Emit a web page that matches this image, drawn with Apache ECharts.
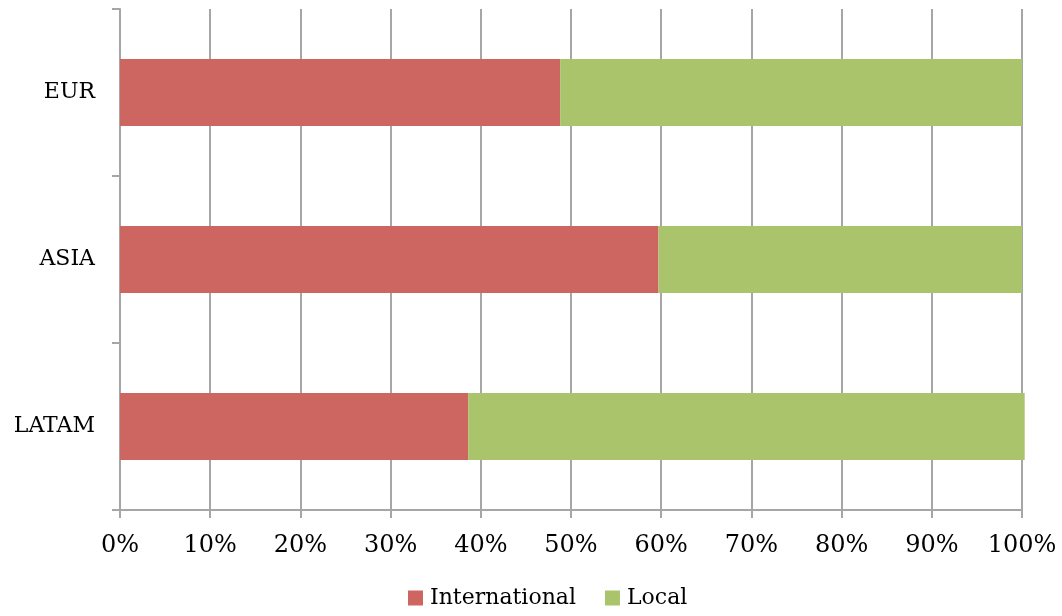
<!DOCTYPE html>
<html>
<head>
<meta charset="utf-8">
<script src="https://cdn.jsdelivr.net/npm/echarts@6/dist/echarts.min.js"></script>
<style>
  html, body { margin: 0; padding: 0; background: #fff; }
  #chart { width: 1062px; height: 616px; }
</style>
</head>
<body>
<div id="chart"></div>
<script>
// Share of each region split between international and local (percent)
const regions = ['EUR', 'ASIA', 'LATAM'];
const international = [48.8, 59.7, 38.6];
const local = [51.2, 40.3, 61.7];
const xTicks = { min: 0, max: 100, step: 10 };

const FONT = 'DejaVu Serif';
const GRID_COLOR = '#a6a6a6';

const chart = echarts.init(document.getElementById('chart'));
chart.setOption({
  animation: false,
  textStyle: { fontFamily: FONT, color: '#000' },
  grid: { left: 120, right: 40, top: 9, bottom: 106, containLabel: false },
  legend: {
    bottom: 2,
    left: 403,
    itemWidth: 15,
    itemHeight: 15,
    itemGap: 29,
    icon: 'rect',
    textStyle: { fontFamily: FONT, fontSize: 22, color: '#000', padding: [0, 0, 0, 2] },
    data: ['International', 'Local']
  },
  xAxis: {
    type: 'value',
    min: xTicks.min,
    max: xTicks.max,
    interval: xTicks.step,
    axisLine: { show: true, lineStyle: { color: GRID_COLOR, width: 2 } },
    axisTick: { show: true, length: 8, lineStyle: { color: GRID_COLOR, width: 2 } },
    splitLine: { show: true, lineStyle: { color: GRID_COLOR, width: 2 } },
    axisLabel: { formatter: '{value}%', fontFamily: FONT, fontSize: 24, color: '#000', margin: 24 }
  },
  yAxis: {
    type: 'category',
    data: regions,
    inverse: true,
    axisLine: { show: true, lineStyle: { color: GRID_COLOR, width: 2 } },
    axisTick: { show: true, length: 8, lineStyle: { color: GRID_COLOR, width: 2 } },
    splitLine: { show: false },
    axisLabel: { fontFamily: FONT, fontSize: 22, color: '#000', margin: 25 }
  },
  series: [
    {
      name: 'International',
      type: 'bar',
      stack: 'share',
      barWidth: '40%',
      clip: false,
      itemStyle: { color: '#cd6660' },
      data: international
    },
    {
      name: 'Local',
      type: 'bar',
      stack: 'share',
      barWidth: '40%',
      clip: false,
      itemStyle: { color: '#aac46c' },
      data: local
    }
  ]
});
</script>
</body>
</html>
